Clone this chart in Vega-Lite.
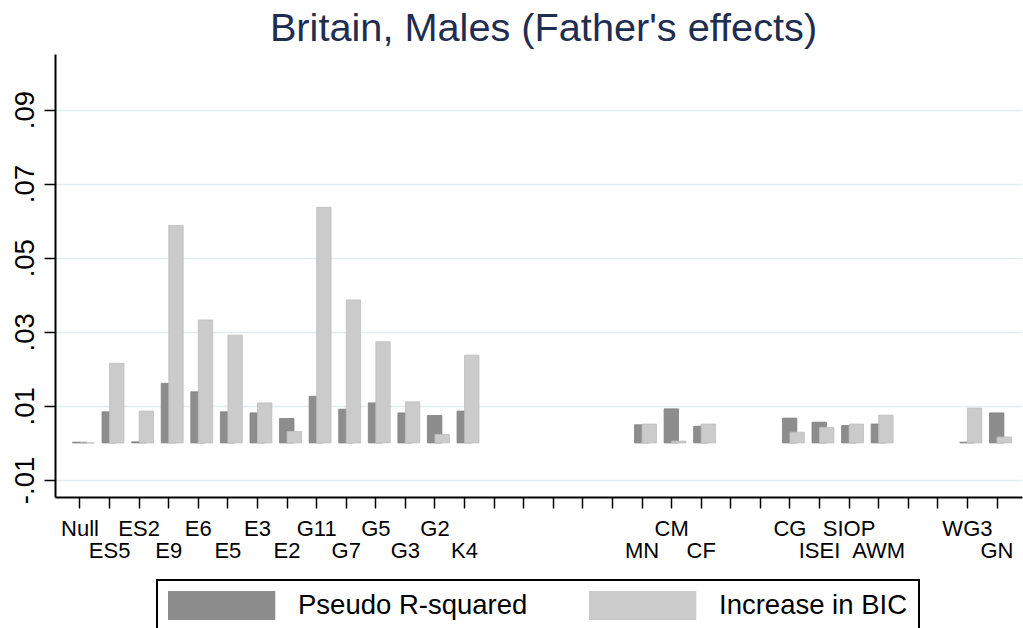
{
  "$schema": "https://vega.github.io/schema/vega-lite/v6.json",
  "autosize": {"type": "none"},
  "width": 967,
  "height": 443,
  "padding": {"left": 55, "top": 54, "right": 1, "bottom": 131},
  "background": "white",
  "title": {
    "text": "Britain, Males (Father's effects)",
    "fontSize": 39.7,
    "font": "Liberation Sans",
    "fontWeight": "normal",
    "color": "#1F2D50",
    "anchor": "middle",
    "baseline": "alphabetic",
    "offset": -27,
    "dx": 5
  },
  "data": {
    "values": [
      {"term": "Null", "measure": "Pseudo R-squared", "value": 0.0002},
      {"term": "Null", "measure": "Increase in BIC", "value": 0.0},
      {"term": "ES5", "measure": "Pseudo R-squared", "value": 0.0084},
      {"term": "ES5", "measure": "Increase in BIC", "value": 0.0215},
      {"term": "ES2", "measure": "Pseudo R-squared", "value": 0.0003},
      {"term": "ES2", "measure": "Increase in BIC", "value": 0.0086},
      {"term": "E9", "measure": "Pseudo R-squared", "value": 0.0161},
      {"term": "E9", "measure": "Increase in BIC", "value": 0.0587},
      {"term": "E6", "measure": "Pseudo R-squared", "value": 0.0138},
      {"term": "E6", "measure": "Increase in BIC", "value": 0.0332},
      {"term": "E5", "measure": "Pseudo R-squared", "value": 0.0084},
      {"term": "E5", "measure": "Increase in BIC", "value": 0.0291},
      {"term": "E3", "measure": "Pseudo R-squared", "value": 0.0081},
      {"term": "E3", "measure": "Increase in BIC", "value": 0.0108},
      {"term": "E2", "measure": "Pseudo R-squared", "value": 0.0066},
      {"term": "E2", "measure": "Increase in BIC", "value": 0.0031},
      {"term": "G11", "measure": "Pseudo R-squared", "value": 0.0126},
      {"term": "G11", "measure": "Increase in BIC", "value": 0.0636},
      {"term": "G7", "measure": "Pseudo R-squared", "value": 0.0091},
      {"term": "G7", "measure": "Increase in BIC", "value": 0.0386},
      {"term": "G5", "measure": "Pseudo R-squared", "value": 0.0108},
      {"term": "G5", "measure": "Increase in BIC", "value": 0.0273},
      {"term": "G3", "measure": "Pseudo R-squared", "value": 0.0081},
      {"term": "G3", "measure": "Increase in BIC", "value": 0.0111},
      {"term": "G2", "measure": "Pseudo R-squared", "value": 0.0074},
      {"term": "G2", "measure": "Increase in BIC", "value": 0.0023},
      {"term": "K4", "measure": "Pseudo R-squared", "value": 0.0086},
      {"term": "K4", "measure": "Increase in BIC", "value": 0.0237},
      {"term": "MN", "measure": "Pseudo R-squared", "value": 0.0049},
      {"term": "MN", "measure": "Increase in BIC", "value": 0.0051},
      {"term": "CM", "measure": "Pseudo R-squared", "value": 0.0092},
      {"term": "CM", "measure": "Increase in BIC", "value": 0.0005},
      {"term": "CF", "measure": "Pseudo R-squared", "value": 0.0045},
      {"term": "CF", "measure": "Increase in BIC", "value": 0.0051},
      {"term": "CG", "measure": "Pseudo R-squared", "value": 0.0067},
      {"term": "CG", "measure": "Increase in BIC", "value": 0.0029},
      {"term": "ISEI", "measure": "Pseudo R-squared", "value": 0.0056},
      {"term": "ISEI", "measure": "Increase in BIC", "value": 0.0042},
      {"term": "SIOP", "measure": "Pseudo R-squared", "value": 0.0047},
      {"term": "SIOP", "measure": "Increase in BIC", "value": 0.0051},
      {"term": "AWM", "measure": "Pseudo R-squared", "value": 0.0051},
      {"term": "AWM", "measure": "Increase in BIC", "value": 0.0075},
      {"term": "WG3", "measure": "Pseudo R-squared", "value": 0.0002},
      {"term": "WG3", "measure": "Increase in BIC", "value": 0.0094},
      {"term": "GN", "measure": "Pseudo R-squared", "value": 0.0081},
      {"term": "GN", "measure": "Increase in BIC", "value": 0.0016}
    ]
  },
  "encoding": {
    "x": {
      "field": "term",
      "type": "nominal",
      "scale": {
        "domain": ["Null", "ES5", "ES2", "E9", "E6", "E5", "E3", "E2", "G11", "G7", "G5", "G3", "G2", "K4", "_14", "_15", "_16", "_17", "_18", "MN", "CM", "CF", "_22", "_23", "CG", "ISEI", "SIOP", "AWM", "_28", "_29", "WG3", "GN"],
        "paddingInner": 0,
        "paddingOuter": 0.345
      },
      "axis": {
        "title": null,
        "labelAngle": 0,
        "labelExpr": "slice(datum.value, 0, 1) == '_' ? '' : (indexof(['ES5','E9','E5','E2','G7','G3','K4','MN','CF','ISEI','AWM','GN'], datum.value) >= 0 ? ['', datum.value] : datum.value)",
        "labelFont": "Liberation Sans",
        "labelFontSize": 22,
        "labelColor": "black",
        "labelBaseline": "top",
        "labelAlign": "center",
        "labelLineHeight": 22,
        "labelPadding": 10,
        "tickSize": 11,
        "tickColor": "black",
        "tickWidth": 1.5,
        "domainColor": "black",
        "domainWidth": 2,
        "labelOverlap": false,
        "labelBound": false,
        "labelFlush": false,
        "grid": false
      }
    },
    "y": {
      "field": "value",
      "type": "quantitative",
      "scale": {"domain": [-0.0146, 0.105], "nice": false, "zero": true},
      "axis": {
        "title": null,
        "values": [-0.01, 0.01, 0.03, 0.05, 0.07, 0.09],
        "labelExpr": "replace(replace(format(datum.value, '.2f'), '0.', '.'), '\u2212', '-')",
        "labelAngle": -90,
        "labelAlign": "center",
        "labelBaseline": "alphabetic",
        "labelFont": "Liberation Sans",
        "labelFontSize": 27.5,
        "labelColor": "black",
        "labelPadding": 11,
        "tickSize": 11,
        "tickColor": "black",
        "tickWidth": 1.5,
        "domainColor": "black",
        "domainWidth": 2,
        "grid": true,
        "gridColor": "#E3EDF0",
        "gridWidth": 1.5,
        "labelFlush": false,
        "labelOverlap": false
      }
    },
    "color": {
      "field": "measure",
      "type": "nominal",
      "scale": {"domain": ["Pseudo R-squared", "Increase in BIC"], "range": ["#8D8D8D", "#CBCBCB"]},
      "legend": {
        "title": null,
        "orient": "none",
        "legendX": 102,
        "legendY": 526,
        "direction": "horizontal",
        "padding": 11,
        "strokeColor": "black",
        "symbolType": "M-1,-1H6.4V1H-1Z",
        "symbolSize": 841,
        "symbolStrokeWidth": 0,
        "symbolOpacity": 1,
        "labelFont": "Liberation Sans",
        "labelFontSize": 27.5,
        "labelColor": "black",
        "labelOffset": 101,
        "columnPadding": 61,
        "labelLimit": 400
      }
    }
  },
  "layer": [
    {
      "transform": [{"filter": "datum.measure == 'Pseudo R-squared'"}],
      "mark": {"type": "bar", "width": 14.4, "xOffset": -0.3, "stroke": "#808080", "strokeWidth": 0.8}
    },
    {
      "transform": [{"filter": "datum.measure == 'Increase in BIC'"}],
      "mark": {"type": "bar", "width": 14.4, "xOffset": 7.2, "stroke": "#BEBEBE", "strokeWidth": 0.8}
    }
  ],
  "config": {
    "view": {"stroke": null},
    "font": "Liberation Sans",
    "legend": {"strokeWidth": 2}
  }
}
